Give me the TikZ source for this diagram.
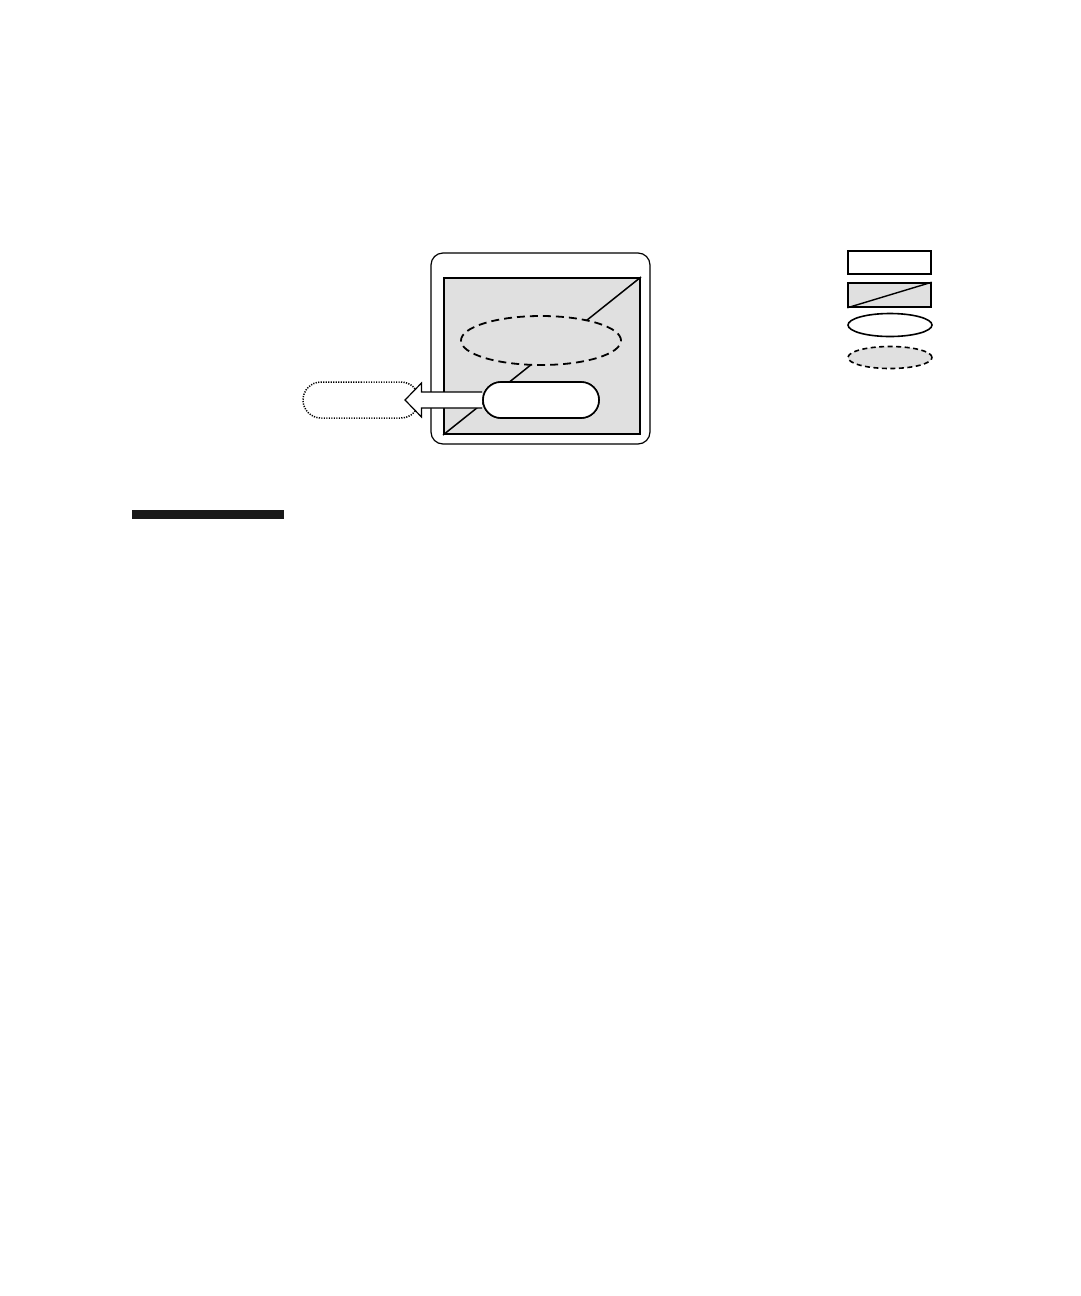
\documentclass[tikz,border=0pt]{standalone}
\usetikzlibrary{shapes.geometric,shapes.misc}
\definecolor{lgray}{HTML}{E0E0E0}
\tikzset{
  dashedell/.style={ellipse, draw=black, line width=1.8pt, dash pattern=on 8pt off 5pt, fill=lgray, inner sep=0pt},
  whiteell/.style={ellipse, draw=black, line width=1.6pt, fill=white, inner sep=0pt},
  pill/.style={rounded rectangle, draw=black, line width=1.6pt, fill=white, inner sep=0pt},
  dottedbox/.style={rounded rectangle, draw=black, line width=1.5pt, dash pattern=on 1.2pt off 1.3pt, fill=white, inner sep=0pt},
}
\begin{document}
\begin{tikzpicture}[x=1pt,y=-1pt]
\useasboundingbox (0,0) rectangle (1080,1296);
% outer rounded frame
\node[draw=black, line width=1.2pt, rounded corners=12pt, minimum width=219pt, minimum height=191pt, inner sep=0pt] (frame) at (540.5,348.5) {};
% inner gray rectangle
\node[draw=black, line width=2pt, fill=lgray, minimum width=196pt, minimum height=156pt, inner sep=0pt] (inner) at (542,356) {};
\draw[line width=1.5pt] (inner.south west) -- (inner.north east);
% dashed ellipse
\node[dashedell, minimum width=160pt, minimum height=49pt] (dell) at (541,340.5) {};
% dotted target
\node[dottedbox, minimum width=116pt, minimum height=36pt] (target) at (361,400) {};
% pill
\node[pill, minimum width=116pt, minimum height=36pt] (pillnode) at (541,400) {};
% block arrow
\coordinate (tip) at (405,400);
\draw[line width=1.2pt, fill=white]
  (pillnode.west |- 0,392) -- (421.5,392) -- (421.5,383) -- (tip) -- (421.5,417) -- (421.5,408) -- (pillnode.west |- 0,408);
% redraw pill over the arrow
\node[pill, minimum width=116pt, minimum height=36pt] at (541,400) {};
% legend
\node[draw=black, line width=1.6pt, fill=white, minimum width=83pt, minimum height=23pt, inner sep=0pt] (lg1) at (889.5,262.5) {};
\node[draw=black, line width=1.6pt, fill=lgray, minimum width=83pt, minimum height=24pt, inner sep=0pt] (lg2) at (889.5,295) {};
\draw[line width=1.4pt] (lg2.south west) -- (lg2.north east);
\node[whiteell, minimum width=84pt, minimum height=23pt] (lg3) at (890,325) {};
\node[dashedell, minimum width=84pt, minimum height=22pt, line width=1.6pt, dash pattern=on 5pt off 3.5pt] (lg4) at (890,357.5) {};
% black bar
\node[fill=black!90, minimum width=152pt, minimum height=9pt, inner sep=0pt] (bar) at (208,514.5) {};
\end{tikzpicture}
\end{document}
